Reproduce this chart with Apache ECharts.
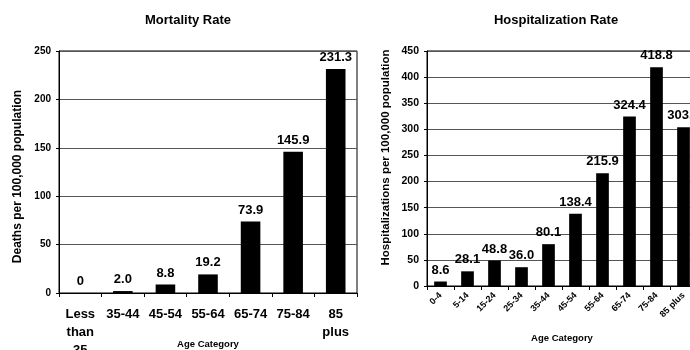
<!DOCTYPE html>
<html>
<head>
<meta charset="utf-8">
<script src="https://cdn.jsdelivr.net/npm/echarts@6/dist/echarts.min.js"></script>
<style>
  html, body { margin: 0; padding: 0; background: #fff; }
  #chart { width: 690px; height: 350px; }
</style>
</head>
<body>
<div id="chart"></div>
<script>
// Mortality rate per 100,000 by age group
const mortalityAges = ['Less\nthan\n35', '35-44', '45-54', '55-64', '65-74', '75-84', '85\nplus'];
const mortalityRates = [0, 2.0, 8.8, 19.2, 73.9, 145.9, 231.3];

// Hospitalization rate per 100,000 by age group
const hospitalAges = ['0-4', '5-14', '15-24', '25-34', '35-44', '45-54', '55-64', '65-74', '75-84', '85 plus'];
const hospitalRates = [8.6, 28.1, 48.8, 36.0, 80.1, 138.4, 215.9, 324.4, 418.8, 303.9];

const FONT = '"Liberation Sans", Arial, sans-serif';
const bold = (size) => ({ fontFamily: FONT, fontWeight: 'bold', fontSize: size, color: '#000' });

const chart = echarts.init(document.getElementById('chart'), null, { renderer: 'canvas' });

function valueAxis(gridIndex, max, name, nameGap, nameStyle, labelSize, labelMargin) {
  return {
    type: 'value', gridIndex, min: 0, max, interval: 50,
    name, nameLocation: 'middle', nameGap, nameMoveOverlap: false,
    nameTextStyle: nameStyle,
    axisLine: { show: true, lineStyle: { color: '#000', width: 1 } },
    axisTick: { show: true, length: 3, lineStyle: { color: '#000' } },
    axisLabel: Object.assign(bold(labelSize), { margin: labelMargin }),
    splitLine: { show: true, lineStyle: { color: '#555', width: 1 } }
  };
}

chart.setOption({
  animation: false,
  backgroundColor: '#fff',
  title: [
    { text: 'Mortality Rate', left: 183, top: 9, textAlign: 'center', textStyle: bold(13) },
    { text: 'Hospitalization Rate', left: 551, top: 9, textAlign: 'center', textStyle: bold(13) }
  ],
  grid: [
    { left: 59, top: 51, width: 298, height: 242, outerBoundsMode: 'none', containLabel: false,
      show: true, borderColor: '#000', borderWidth: 1, backgroundColor: 'transparent' },
    { left: 427, top: 51, width: 270, height: 235, outerBoundsMode: 'none', containLabel: false,
      show: true, borderColor: '#000', borderWidth: 1, backgroundColor: 'transparent' }
  ],
  xAxis: [
    {
      type: 'category', gridIndex: 0, data: mortalityAges,
      name: 'Age Category', nameLocation: 'middle', nameGap: 46, nameMoveOverlap: false,
      nameTextStyle: bold(9.5),
      axisLine: { lineStyle: { color: '#000' } },
      axisTick: { show: true, length: 4, alignWithLabel: false, lineStyle: { color: '#000' } },
      axisLabel: Object.assign(bold(13), { margin: 12, lineHeight: 18, interval: 0 })
    },
    {
      type: 'category', gridIndex: 1, data: hospitalAges,
      name: 'Age Category', nameLocation: 'middle', nameGap: 47, nameMoveOverlap: false,
      nameTextStyle: bold(9.5),
      axisLine: { lineStyle: { color: '#000' } },
      axisTick: { show: true, length: 4, alignWithLabel: false, lineStyle: { color: '#000' } },
      axisLabel: Object.assign(bold(9), { margin: 8, rotate: 45, interval: 0 })
    }
  ],
  yAxis: [
    valueAxis(0, 250, 'Deaths per 100,000 population', 35,
      Object.assign(bold(12), { padding: [0, 9, 0, 0] }), 10, 8),
    valueAxis(1, 450, 'Hospitalizations per 100,000 population', 35,
      Object.assign(bold(11.5), { padding: [0, 0, 0, 22] }), 10.5, 8)
  ],
  series: [
    {
      type: 'bar', xAxisIndex: 0, yAxisIndex: 0, data: mortalityRates,
      barWidth: '46%', itemStyle: { color: '#000' },
      label: {
        show: true, position: 'top', distance: 5,
        formatter: (p) => p.value === 0 ? '0' : p.value.toFixed(1),
        ...bold(13)
      }
    },
    {
      type: 'bar', xAxisIndex: 1, yAxisIndex: 1, data: hospitalRates,
      barWidth: '47%', itemStyle: { color: '#000' },
      label: {
        show: true, position: 'top', distance: 5,
        formatter: (p) => p.value.toFixed(1),
        ...bold(13)
      }
    }
  ]
});
</script>
</body>
</html>
